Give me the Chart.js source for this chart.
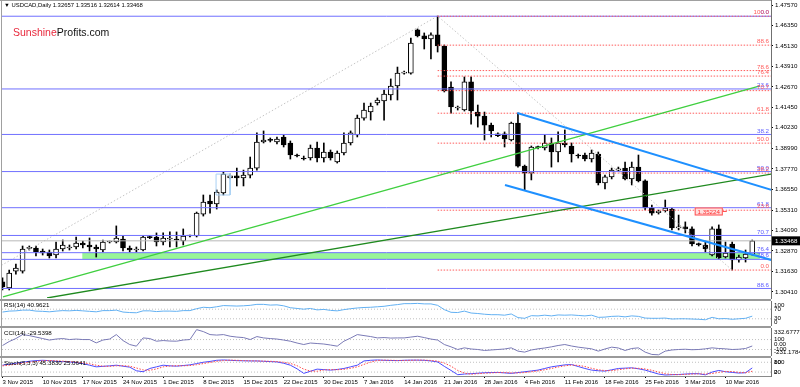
<!DOCTYPE html>
<html>
<head>
<meta charset="utf-8">
<title>USDCAD Daily</title>
<script src="https://cdn.jsdelivr.net/npm/chart.js@4.4.1/dist/chart.umd.min.js"></script>
<style>
  html, body { margin: 0; padding: 0; background: #fff; }
  #wrap { position: relative; width: 800px; height: 387px; overflow: hidden; font-family: 'Liberation Sans', Arial, sans-serif; }
  #wrap canvas { position: absolute; left: 0; }
  .rule { position: absolute; left: 0; width: 771px; }
  .lbl { position: absolute; left: 4px; font-size: 6.2px; line-height: 1; color: #000; white-space: pre; }
  #header { font-size: 5.9px; }
  #logo { position: absolute; left: 13px; top: 27px; font-size: 10.5px; line-height: 1; color: #111; }
  #logo span { color: #e8283c; }
</style>
</head>
<body>
<div id="wrap">
  <canvas id="mainChart" width="800" height="299" style="top:0px"></canvas>
  <canvas id="rsiChart" width="800" height="25" style="top:301px"></canvas>
  <canvas id="cciChart" width="800" height="28" style="top:328px"></canvas>
  <canvas id="stochChart" width="800" height="29" style="top:358px"></canvas>

  <div class="rule" style="top:0px;height:1px;background:#a0a0a0"></div>
  <div style="position:absolute;left:1px;top:0px;width:1px;height:377px;background:#a0a0a0"></div>
  <div class="rule" style="top:299px;height:2px;background:#9a9a9a"></div>
  <div class="rule" style="top:326px;height:2px;background:#9a9a9a"></div>
  <div class="rule" style="top:356px;height:2px;background:#9a9a9a"></div>

  <div class="lbl" id="header" style="top:3px"></div>
  <div id="logo"><span>Sunshine</span>Profits.com</div>
  <div class="lbl" id="rsiLbl" style="top:302px"></div>
  <div class="lbl" id="cciLbl" style="top:330px"></div>
  <div class="lbl" id="stochLbl" style="top:360px"></div>
</div>

<script>
// Bars: one per trading session (Sunday sessions included), 3 Nov 2015 .. 15 Mar 2016
const dateLabels = ['3 Nov 2015', '10 Nov 2015', '17 Nov 2015', '24 Nov 2015', '1 Dec 2015', '8 Dec 2015',
    '15 Dec 2015', '22 Dec 2015', '30 Dec 2015', '7 Jan 2016', '14 Jan 2016', '21 Jan 2016', '28 Jan 2016',
    '4 Feb 2016', '11 Feb 2016', '18 Feb 2016', '25 Feb 2016', '3 Mar 2016', '10 Mar 2016'];
const dateLabelBars = [0, 6, 12, 18, 24, 30, 36, 42, 48, 54, 60, 66, 72, 78, 84, 90, 96, 102, 108];

const opens = [
    1.3101, 1.3065, 1.3166, 1.3166, 1.3302, 1.3304, 1.3286, 1.3280, 1.3262, 1.3298,
    1.3304, 1.3310, 1.3334, 1.3322, 1.3310, 1.3292, 1.3340, 1.3340, 1.3358, 1.3304,
    1.3292, 1.3292, 1.3370, 1.3370, 1.3340, 1.3358, 1.3358, 1.3346, 1.3376, 1.3376,
    1.3507, 1.3585, 1.3567, 1.3633, 1.3723, 1.3735, 1.3723, 1.3740, 1.3782, 1.3938,
    1.3950, 1.3938, 1.3968, 1.3932, 1.3860, 1.3842, 1.3842, 1.3902, 1.3842, 1.3878,
    1.3818, 1.3872, 1.3932, 1.3980, 1.4081, 1.4117, 1.4171, 1.4183, 1.4219, 1.4273,
    1.4350, 1.4350, 1.4608, 1.4572, 1.4554, 1.4578, 1.4512, 1.4267, 1.4141, 1.4129,
    1.4297, 1.4117, 1.4093, 1.4039, 1.3976, 1.3986, 1.3950, 1.4051, 1.3794, 1.3752,
    1.3908, 1.3902, 1.3932, 1.3878, 1.3932, 1.3914, 1.3856, 1.3860, 1.3836, 1.3866,
    1.3693, 1.3729, 1.3770, 1.3782, 1.3717, 1.3788, 1.3705, 1.3543, 1.3515, 1.3525,
    1.3537, 1.3424, 1.3430, 1.3418, 1.3328, 1.3322, 1.3262, 1.3418, 1.3250, 1.3328,
    1.3232, 1.3244, 1.32657
];
const highs = [
    1.3125, 1.3172, 1.3208, 1.3316, 1.3316, 1.3316, 1.3298, 1.3292, 1.3340, 1.3352,
    1.3322, 1.3370, 1.3346, 1.3364, 1.3322, 1.3352, 1.3346, 1.3436, 1.3376, 1.3316,
    1.3310, 1.3376, 1.3376, 1.3394, 1.3394, 1.3400, 1.3400, 1.3418, 1.3382, 1.3519,
    1.3621, 1.3621, 1.3651, 1.3758, 1.3746, 1.3782, 1.3770, 1.3848, 1.3992, 1.4004,
    1.3962, 1.3968, 1.3980, 1.3944, 1.3866, 1.3854, 1.3920, 1.3938, 1.3932, 1.3890,
    1.3884, 1.3992, 1.4004, 1.4099, 1.4171, 1.4171, 1.4201, 1.4249, 1.4315, 1.4386,
    1.4362, 1.4560, 1.4614, 1.4590, 1.4590, 1.4691, 1.4518, 1.4297, 1.4153, 1.4327,
    1.4327, 1.4159, 1.4117, 1.4051, 1.3992, 1.3998, 1.4057, 1.4111, 1.3800, 1.3914,
    1.3914, 1.3980, 1.3962, 1.3998, 1.4010, 1.3932, 1.3866, 1.3872, 1.3890, 1.3878,
    1.3740, 1.3782, 1.3788, 1.3818, 1.3818, 1.3860, 1.3711, 1.3561, 1.3531, 1.3591,
    1.3543, 1.3501, 1.3460, 1.3430, 1.3334, 1.3346, 1.3430, 1.3442, 1.3340, 1.3340,
    1.3262, 1.3292, 1.33516
];
const lows = [
    1.3053, 1.3053, 1.3148, 1.3154, 1.3292, 1.3256, 1.3262, 1.3244, 1.3244, 1.3286,
    1.3292, 1.3298, 1.3304, 1.3286, 1.3250, 1.3280, 1.3334, 1.3334, 1.3286, 1.3280,
    1.3280, 1.3286, 1.3360, 1.3316, 1.3322, 1.3310, 1.3310, 1.3322, 1.3370, 1.3370,
    1.3495, 1.3513, 1.3537, 1.3621, 1.3717, 1.3675, 1.3675, 1.3723, 1.3770, 1.3932,
    1.3938, 1.3926, 1.3908, 1.3836, 1.3848, 1.3830, 1.3830, 1.3818, 1.3818, 1.3830,
    1.3812, 1.3860, 1.3920, 1.3968, 1.4069, 1.4069, 1.4159, 1.4069, 1.4189, 1.4189,
    1.4344, 1.4344, 1.4566, 1.4494, 1.4434, 1.4476, 1.4237, 1.4111, 1.4129, 1.4123,
    1.4045, 1.4027, 1.3950, 1.3968, 1.3970, 1.3908, 1.3944, 1.3788, 1.3651, 1.3711,
    1.3896, 1.3890, 1.3788, 1.3818, 1.3908, 1.3818, 1.3842, 1.3824, 1.3818, 1.3681,
    1.3657, 1.3717, 1.3764, 1.3711, 1.3681, 1.3699, 1.3531, 1.3501, 1.3507, 1.3519,
    1.3412, 1.3412, 1.3394, 1.3316, 1.3316, 1.3280, 1.3256, 1.3238, 1.3244, 1.3172,
    1.3220, 1.3220, 1.32614
];
const closes = [
    1.3071, 1.3154, 1.3184, 1.3298, 1.3304, 1.3280, 1.3274, 1.3256, 1.3298, 1.3322,
    1.3310, 1.3334, 1.3322, 1.3310, 1.3298, 1.3340, 1.3342, 1.3364, 1.3304, 1.3292,
    1.3296, 1.3370, 1.3366, 1.3340, 1.3364, 1.3360, 1.3352, 1.3376, 1.3380, 1.3513,
    1.3579, 1.3567, 1.3639, 1.3746, 1.3735, 1.3723, 1.3740, 1.3782, 1.3938, 1.3950,
    1.3948, 1.3956, 1.3920, 1.3860, 1.3854, 1.3836, 1.3902, 1.3842, 1.3878, 1.3842,
    1.3872, 1.3932, 1.3992, 1.4081, 1.4129, 1.4153, 1.4189, 1.4225, 1.4273, 1.4350,
    1.4356, 1.4530, 1.4572, 1.4554, 1.4578, 1.4512, 1.4243, 1.4147, 1.4147, 1.4297,
    1.4123, 1.4093, 1.4039, 1.4004, 1.3986, 1.3956, 1.4051, 1.3794, 1.3752, 1.3908,
    1.3904, 1.3932, 1.3878, 1.3932, 1.3920, 1.3866, 1.3854, 1.3836, 1.3872, 1.3693,
    1.3729, 1.3770, 1.3778, 1.3717, 1.3788, 1.3705, 1.3543, 1.3513, 1.3525, 1.3543,
    1.3424, 1.3430, 1.3418, 1.3328, 1.3324, 1.3298, 1.3418, 1.3244, 1.3274, 1.3232,
    1.3250, 1.3268, 1.33468
];

const rsiValues = [
    58, 62, 63, 66, 66, 62, 61, 59, 62, 64,
    63, 65, 63, 61, 59, 64, 64, 66, 58, 56,
    55, 63, 63, 60, 62, 62, 61, 64, 64, 72,
    78, 76, 80, 85, 84, 83, 84, 86, 90, 90,
    87, 88, 84, 76, 73, 70, 73, 67, 69, 65,
    63, 68, 72, 75, 77, 78, 80, 82, 86, 89,
    93, 93, 94, 92, 92, 86, 68, 57, 56, 62,
    54, 52, 49, 47, 47, 45, 50, 35, 32, 43,
    42, 45, 42, 46, 45, 46, 44, 42, 45, 36,
    37, 40, 41, 38, 42, 40, 33, 32, 32, 33,
    29, 30, 30, 29, 28, 26, 36, 30, 31, 28,
    30, 32, 40.9621
];
const cciValues = [
    -20, 60, 120, 200, 180, 150, 120, 90, 110, 120,
    100, 110, 100, 100, 33, 90, 110, 200, 80, 0,
    -33, 133, 120, 67, 80, 70, 67, 90, 100, 300,
    260, 200, 190, 200, 167, 150, 140, 100, 160, 133,
    120, 110, 90, 67, 30, 0, 30, 20, 10, -10,
    -33, 67, 130, 200, 180, 160, 133, 140, 130, 133,
    133, 150, 167, 140, 110, 90, 0, -47, -100, -67,
    -90, -100, -120, -110, -100, -90, -67, -133, -153, -110,
    -87, -70, -47, -20, 0, -30, -53, -70, -87, -133,
    -90, -53, -70, -120, -80, -67, -153, -200, -207, -133,
    -110, -100, -95, -105, -100, -87, -67, -80, -87, -100,
    -95, -80, -29.5398
];
const stochMain = [
    62, 68, 74, 80, 86, 90, 92, 90, 86, 84,
    82, 78, 72, 62, 52, 55, 58, 62, 56, 50,
    28, 22, 42, 52, 62, 58, 56, 60, 64, 72,
    80, 85, 92, 94, 92, 90, 89, 88, 88, 86,
    84, 82, 74, 62, 40, 12, 25, 38, 35, 32,
    36, 42, 52, 62, 88, 92, 94, 92, 91, 90,
    92, 93, 93, 92, 88, 82, 55, 30, 4, 8,
    10, 13, 16, 17, 18, 15, 12, 17, 22, 27,
    32, 42, 52, 58, 64, 66, 54, 42, 32, 28,
    26, 34, 42, 44, 46, 40, 32, 20, 8, 2,
    4, 5, 8, 10, 10, 3, 20, 30, 22, 18,
    14, 16, 45.383
];
const stochSignal = [
    58, 62, 68, 74, 80, 85, 89, 91, 89, 87,
    84, 81, 77, 71, 62, 56, 55, 58, 59, 56,
    45, 33, 31, 39, 52, 57, 59, 58, 60, 65,
    72, 79, 86, 90, 93, 92, 90, 89, 88, 87,
    86, 84, 80, 73, 59, 38, 26, 25, 33, 35,
    34, 37, 43, 52, 67, 81, 91, 93, 92, 91,
    91, 92, 93, 93, 91, 87, 75, 56, 30, 14,
    7, 10, 13, 15, 17, 17, 15, 15, 17, 22,
    27, 34, 42, 51, 58, 63, 61, 54, 43, 34,
    29, 29, 34, 40, 44, 43, 39, 31, 20, 10,
    5, 4, 6, 8, 9, 8, 11, 18, 24, 23,
    18, 16, 25.0641
];

// price axis
const priceTicks = [1.4757, 1.4635, 1.4513, 1.4391, 1.4267, 1.4145, 1.4023, 1.3899, 1.3777,
    1.3655, 1.3531, 1.3409, 1.3287, 1.3163, 1.3041];
const priceMin = 1.3005, priceMax = 1.4787;
const barMin = -0.075, barMax = 114.8;
const lastPrice = 1.33468;

// fibonacci sets
const blueFibLevels = ['0.0', '23.6', '38.2', '50.0', '61.8', '70.7', '76.4', '78.6', '88.6'];
const blueFibPrices = [1.4690, 1.4255, 1.3983, 1.3761, 1.3545, 1.3379, 1.3276, 1.3236, 1.3062];
const redFibLevels = ['0.0', '23.6', '38.2', '50.0', '61.8', '70.7', '76.4', '78.6', '88.6', '100.0'];
const redFibPrices = [1.3172, 1.3530, 1.3752, 1.3931, 1.4110, 1.4245, 1.4332, 1.4365, 1.4517, 1.4690];
const redFibStartBar = 65;

// drawn objects, as [bar, price] points
const lightGreenTrend = [[0.07, 1.3011], [113.15, 1.4273]];
const darkGreenTrend = [[6.65, 1.3005], [114.9, 1.3746]];
const channelUpper = [[76.9, 1.4111], [114.9, 1.3651]];
const channelLower = [[75.06, 1.3681], [114.9, 1.3232]];
const zigzag = [[-15.6, 1.2847], [65, 1.4691], [109, 1.3172]];
const highlightBars = [31.9, 34.0];
const highlightPrices = [1.3621, 1.3746];
const zoneBars = [11.9, 113.15];
const zonePrices = [1.3236, 1.3276];
const priceLabel = 1.35224;
const priceLabelBars = [103.4, 107.6];

// indicator axes
const rsiLevels = [70, 30];
const cciLevels = [100, -100];
const stochLevels = [80, 20];
const rsiAxis = [[100, '100'], [70, '70'], [30, '30'], [0, '0']];
const cciAxis = [[332.6777, '332.6777'], [100, '100'], [0, '0.00'], [-100, '-100'], [-231.1784, '-231.1784']];
const stochAxis = [[100, '100'], [80, '80'], [20, '20'], [0, '0']];

Chart.defaults.font.family = "'Liberation Sans', Arial, sans-serif";
Chart.defaults.color = '#000';

const last = closes.length - 1;
document.getElementById('header').textContent = '\u25BC USDCAD,Daily ' + opens[last].toFixed(5) + ' ' +
    highs[last].toFixed(5) + ' ' + lows[last].toFixed(5) + ' ' + closes[last].toFixed(5);
document.getElementById('rsiLbl').textContent = 'RSI(14) ' + rsiValues[last].toFixed(4);
document.getElementById('cciLbl').textContent = 'CCI(14) ' + cciValues[last].toFixed(4);
document.getElementById('stochLbl').textContent = 'Stoch(5,3,3) ' + stochMain[last].toFixed(4) + ' ' + stochSignal[last].toFixed(4);

function lineSet(points, color, width, dash, order) {
    return {
        type: 'line',
        data: points.map(p => ({ x: p[0], y: p[1] })),
        borderColor: color,
        borderWidth: width,
        borderDash: dash || [],
        pointRadius: 0,
        tension: 0,
        fill: false,
        order: order === undefined ? 1 : order
    };
}

// stop Chart.js from reserving room for half a tick label above and below the plot
function fixWidth(s) {
    s.width = 29;
    s.paddingTop = 0;
    s.paddingBottom = 0;
}

const idx = closes.map((c, i) => i);
const datasets = [];

// green zone (background)
datasets.push(Object.assign(lineSet([[zoneBars[0], zonePrices[1]], [zoneBars[1], zonePrices[1]]], 'rgba(0,0,0,0)', 0, null, 30),
    { fill: '+1', backgroundColor: '#98f598' }));
datasets.push(lineSet([[zoneBars[0], zonePrices[0]], [zoneBars[1], zonePrices[0]]], 'rgba(0,0,0,0)', 0, null, 31));

// candles
datasets.push({
    type: 'bar',
    data: idx.map(i => ({ x: i, y: [lows[i], highs[i]] })),
    backgroundColor: '#000',
    borderWidth: 0,
    barThickness: 1,
    grouped: false,
    order: 11
});
datasets.push({
    type: 'bar',
    data: idx.map(i => ({ x: i, y: [opens[i], closes[i]] })),
    backgroundColor: idx.map(i => closes[i] >= opens[i] ? '#ffffff' : '#000000'),
    borderColor: '#000',
    borderWidth: 1,
    borderSkipped: false,
    barThickness: 5,
    minBarLength: 1,
    grouped: false,
    order: 10
});

// horizontal levels
blueFibPrices.forEach(p => datasets.push(lineSet([[barMin, p], [barMax, p]], '#7070ff', 1, null, 3)));
redFibPrices.forEach(p => datasets.push(lineSet([[redFibStartBar, p], [barMax, p]], '#ff5c5c', 1, [1.5, 1.5], 2)));
datasets.push(lineSet([[barMin, lastPrice], [barMax, lastPrice]], '#b8b8b8', 1, null, 4));

// trend lines and markings
datasets.push(lineSet(zigzag, '#c4c4c4', 1, [1.5, 2], 5));
datasets.push(lineSet(lightGreenTrend, '#3fcf3f', 1.3, null, 1));
datasets.push(lineSet(darkGreenTrend, '#1f8a1f', 1.3, null, 1));
datasets.push(lineSet(channelUpper, '#1e90ff', 2, null, 0));
datasets.push(lineSet(channelLower, '#1e90ff', 2, null, 0));
datasets.push(lineSet([[highlightBars[0], highlightPrices[0]], [highlightBars[0], highlightPrices[1]],
    [highlightBars[1], highlightPrices[1]], [highlightBars[1], highlightPrices[0]],
    [highlightBars[0], highlightPrices[0]]], '#a8d0f4', 1, null, 1));

const mainOverlay = {
    id: 'mainOverlay',
    afterDatasetsDraw(chart) {
        const { ctx, chartArea } = chart;
        const xs = chart.scales.x, ys = chart.scales.y;
        ctx.save();
        ctx.font = "6.2px 'Liberation Sans', Arial, sans-serif";
        ctx.textAlign = 'right';
        ctx.textBaseline = 'bottom';
        ctx.fillStyle = '#5a5aff';
        blueFibLevels.forEach((t, k) => ctx.fillText(t, chartArea.right - 2, ys.getPixelForValue(blueFibPrices[k]) - 0.5));
        ctx.fillStyle = '#ff5a5a';
        redFibLevels.forEach((t, k) => ctx.fillText(t, chartArea.right - 2, ys.getPixelForValue(redFibPrices[k]) - 0.5));

        // price label box
        const bx0 = xs.getPixelForValue(priceLabelBars[0]);
        const bx1 = xs.getPixelForValue(priceLabelBars[1]);
        const by = ys.getPixelForValue(priceLabel);
        ctx.fillStyle = '#ffdede';
        ctx.fillRect(bx0, by - 4, bx1 - bx0, 8);
        ctx.strokeStyle = '#ff5050';
        ctx.lineWidth = 1;
        ctx.strokeRect(bx0 + 0.5, by - 3.5, bx1 - bx0 - 1, 7);
        ctx.beginPath();
        ctx.moveTo(bx1, by);
        ctx.lineTo(bx1 + 4, by);
        ctx.stroke();
        ctx.fillStyle = '#ff3030';
        ctx.textAlign = 'center';
        ctx.textBaseline = 'middle';
        ctx.fillText(priceLabel.toFixed(5), (bx0 + bx1) / 2, by + 0.5);
        ctx.restore();
    },
    afterDraw(chart) {
        const { ctx, chartArea } = chart;
        const py = chart.scales.y.getPixelForValue(lastPrice);
        ctx.save();
        ctx.fillStyle = '#000';
        ctx.fillRect(chartArea.right + 1, py - 4.5, chart.width - chartArea.right - 1, 9);
        ctx.fillStyle = '#fff';
        ctx.font = "6.2px 'Liberation Sans', Arial, sans-serif";
        ctx.textAlign = 'left';
        ctx.textBaseline = 'middle';
        ctx.fillText(lastPrice.toFixed(5), chartArea.right + 4, py + 0.5);
        ctx.restore();
    }
};

new Chart(document.getElementById('mainChart'), {
    type: 'bar',
    data: { datasets: datasets },
    options: {
        responsive: false,
        animation: false,
        devicePixelRatio: 1,
        events: [],
        layout: { padding: { left: 2, right: 0, top: 0, bottom: 1 } },
        plugins: { legend: { display: false }, tooltip: { enabled: false } },
        scales: {
            x: { type: 'linear', min: barMin, max: barMax, offset: false, display: false },
            y: {
                type: 'linear',
                position: 'right',
                min: priceMin,
                max: priceMax,
                afterFit: fixWidth,
                afterBuildTicks: s => { s.ticks = priceTicks.map(v => ({ value: v })); },
                ticks: { autoSkip: false, font: { size: 6.2 }, color: '#000', padding: 2, callback: v => v.toFixed(5) },
                grid: { drawOnChartArea: false, drawTicks: true, tickLength: 2, color: '#000' },
                border: { display: true, color: '#707070' }
            }
        }
    },
    plugins: [mainOverlay]
});

// indicator panes
function axisLabelPlugin(labels) {
    return {
        id: 'axisLabels',
        afterDraw(chart) {
            const { ctx, chartArea } = chart;
            const ys = chart.scales.y;
            ctx.save();
            ctx.font = "6.2px 'Liberation Sans', Arial, sans-serif";
            ctx.fillStyle = '#000';
            ctx.textAlign = 'left';
            ctx.textBaseline = 'middle';
            labels.forEach(([v, t]) => {
                let py = ys.getPixelForValue(v);
                py = Math.min(Math.max(py, chartArea.top + 4.5), chartArea.bottom - 4);
                ctx.fillText(t, chartArea.right + 3, py);
            });
            ctx.restore();
        }
    };
}

function makePane(id, lines, levels, yMin, yMax, axisLabels, withDates) {
    const sets = levels.map(v => lineSet([[barMin, v], [barMax, v]], '#c0c0c0', 1, [1, 2], 5));
    lines.forEach(l => sets.push({
        type: 'line',
        data: l.values.map((v, i) => ({ x: i, y: v })),
        borderColor: l.color,
        borderWidth: 1,
        borderDash: l.dash || [],
        pointRadius: 0,
        tension: 0,
        fill: false,
        order: l.order
    }));
    return new Chart(document.getElementById(id), {
        type: 'line',
        data: { datasets: sets },
        options: {
            responsive: false,
            animation: false,
            devicePixelRatio: 1,
            events: [],
            layout: { padding: { left: 2, right: 0, top: 0, bottom: 0 } },
            plugins: { legend: { display: false }, tooltip: { enabled: false } },
            scales: {
                x: withDates ? {
                    type: 'linear',
                    min: barMin,
                    max: barMax,
                    offset: false,
                    afterFit: s => { s.height = 11; },
                    afterBuildTicks: s => { s.ticks = dateLabelBars.map(v => ({ value: v })); },
                    ticks: {
                        autoSkip: false, maxRotation: 0, minRotation: 0, align: 'start',
                        padding: 1, font: { size: 6 }, color: '#000',
                        callback: (v, k) => dateLabels[k]
                    },
                    grid: { drawOnChartArea: false, drawTicks: true, tickLength: 2, color: '#000' },
                    border: { display: true, color: '#8a8a8a' }
                } : { type: 'linear', min: barMin, max: barMax, offset: false, display: false },
                y: {
                    type: 'linear',
                    position: 'right',
                    min: yMin,
                    max: yMax,
                    afterFit: fixWidth,
                    ticks: { display: false },
                    grid: { display: false },
                    border: { display: true, color: '#707070' }
                }
            }
        },
        plugins: [axisLabelPlugin(axisLabels)]
    });
}

makePane('rsiChart', [{ values: rsiValues, color: '#62b0f2', order: 0 }], rsiLevels, 0, 104, rsiAxis, false);
makePane('cciChart', [{ values: cciValues, color: '#7a7ab6', order: 0 }], cciLevels, -231.1784, 332.6777, cciAxis, false);
makePane('stochChart', [
    { values: stochMain, color: '#4b4bff', order: 1 },
    { values: stochSignal, color: '#ff4a4a', dash: [1.5, 1.5], order: 0 }
], stochLevels, -4, 106, stochAxis, true);
</script>
</body>
</html>
